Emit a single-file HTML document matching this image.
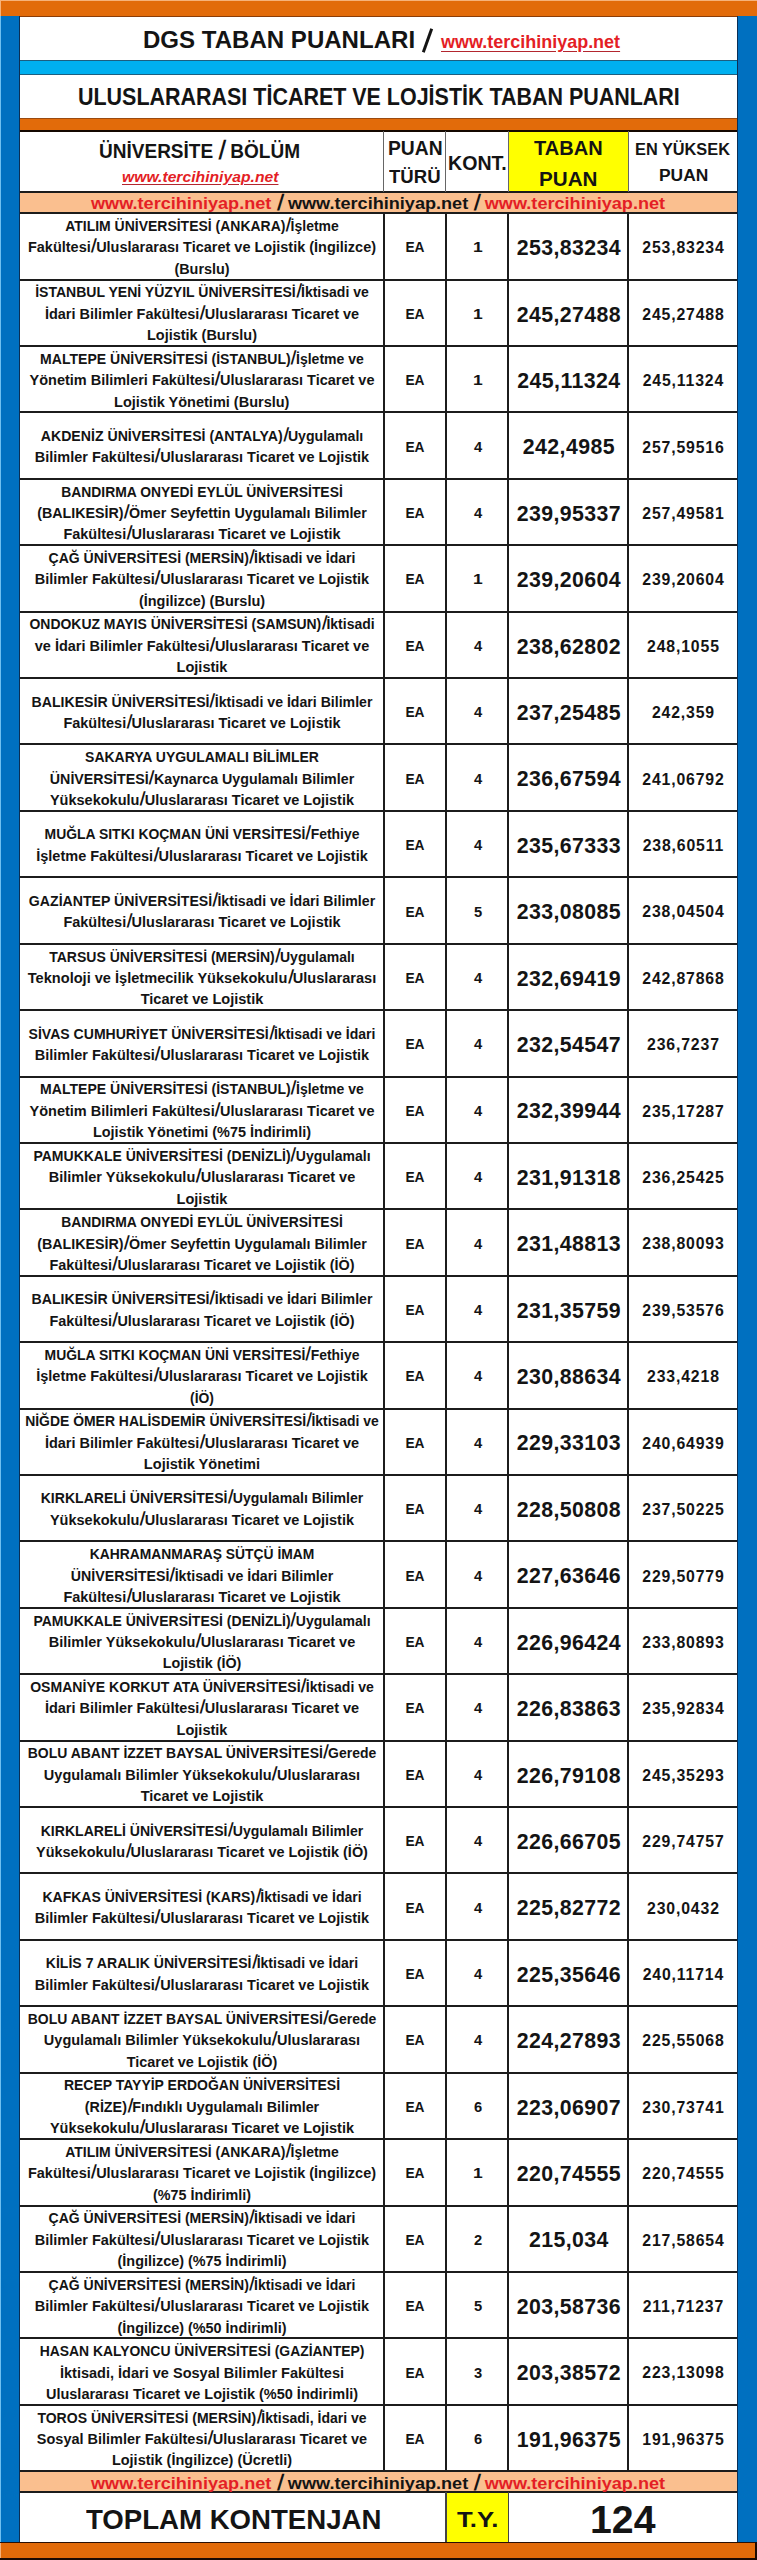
<!DOCTYPE html>
<html lang="tr"><head><meta charset="utf-8"><title>DGS Taban Puanları</title><style>*{margin:0;padding:0}
html,body{width:757px;height:2560px;overflow:hidden;background:#fff}
body>div{position:absolute}
.t{width:600px;text-align:center;white-space:pre;font-family:'Liberation Sans', sans-serif;font-weight:bold;transform-origin:50% 50%}
.sl{display:inline-block;transform:scale(1.1,1.32) skewX(-9deg);transform-origin:50% 72%;margin:0 0.7px}
.f{white-space:pre;font-family:'Liberation Sans', sans-serif;font-weight:bold;transform-origin:0 50%;text-decoration-thickness:1.5px;text-underline-offset:2px}
</style></head>
<body>
<div style="left:0px;top:0px;width:757px;height:2560px;background:#fff;"></div>
<div style="left:0px;top:0px;width:757px;height:17px;background:#E26B0A;"></div>
<div style="left:0px;top:0px;width:757px;height:1px;background:#F6B27A;"></div>
<div style="left:19px;top:16px;width:718px;height:1px;background:#8a3d08;"></div>
<div style="left:0px;top:16px;width:19.5px;height:2527px;background:#0070C0;"></div>
<div style="left:0px;top:16px;width:1px;height:2527px;background:#6fc0f0;"></div>
<div style="left:18.5px;top:16px;width:1.5px;height:2527px;background:#0b2f55;"></div>
<div style="left:737px;top:16px;width:20px;height:2527px;background:#0070C0;"></div>
<div style="left:736.5px;top:16px;width:1.5px;height:2527px;background:#0b2f55;"></div>
<div style="left:0px;top:2541.5px;width:757px;height:18.5px;background:#E26B0A;"></div>
<div style="left:0px;top:2541.5px;width:757px;height:1.5px;background:#2a1005;"></div>
<div style="left:0px;top:2558px;width:757px;height:2px;background:#1a0a03;"></div>
<div style="left:755px;top:2541.5px;width:2px;height:18.5px;background:#1a0a03;"></div>
<div style="left:0px;top:0px;width:1px;height:16px;background:#F6B27A;"></div>
<div style="left:0px;top:2543px;width:1px;height:15px;background:#F6B27A;"></div>
<div style="left:19.5px;top:60px;width:717.5px;height:15px;background:#00B0F0;"></div>
<div style="left:19.5px;top:60px;width:717.5px;height:1px;background:#1d5f80;"></div>
<div style="left:19.5px;top:74px;width:717.5px;height:1px;background:#1d5f80;"></div>
<div style="left:19.5px;top:118px;width:717.5px;height:13px;background:#E26B0A;"></div>
<div style="left:19.5px;top:118px;width:717.5px;height:1px;background:#9a4a10;"></div>
<div style="left:19.5px;top:130px;width:717.5px;height:1.5px;background:#140800;"></div>
<div style="left:508.5px;top:131.5px;width:119.5px;height:59.5px;background:#FFFF00;"></div>
<div style="left:19.5px;top:191px;width:717.5px;height:22px;background:#FABF8F;"></div>
<div style="left:19.5px;top:2470.6px;width:717.5px;height:22px;background:#FABF8F;"></div>
<div style="left:446px;top:2492.5px;width:62.5px;height:49px;background:#FFFF00;"></div>
<div style="left:19.5px;top:190.5px;width:717.5px;height:2px;background:#1c1c1c;"></div>
<div style="left:19.5px;top:212.2px;width:717.5px;height:2px;background:#1c1c1c;"></div>
<div style="left:19.5px;top:278.61px;width:717.5px;height:2px;background:#1c1c1c;"></div>
<div style="left:19.5px;top:345.02px;width:717.5px;height:2px;background:#1c1c1c;"></div>
<div style="left:19.5px;top:411.42999999999995px;width:717.5px;height:2px;background:#1c1c1c;"></div>
<div style="left:19.5px;top:477.84px;width:717.5px;height:2px;background:#1c1c1c;"></div>
<div style="left:19.5px;top:544.25px;width:717.5px;height:2px;background:#1c1c1c;"></div>
<div style="left:19.5px;top:610.66px;width:717.5px;height:2px;background:#1c1c1c;"></div>
<div style="left:19.5px;top:677.0699999999999px;width:717.5px;height:2px;background:#1c1c1c;"></div>
<div style="left:19.5px;top:743.48px;width:717.5px;height:2px;background:#1c1c1c;"></div>
<div style="left:19.5px;top:809.8899999999999px;width:717.5px;height:2px;background:#1c1c1c;"></div>
<div style="left:19.5px;top:876.3px;width:717.5px;height:2px;background:#1c1c1c;"></div>
<div style="left:19.5px;top:942.71px;width:717.5px;height:2px;background:#1c1c1c;"></div>
<div style="left:19.5px;top:1009.1199999999999px;width:717.5px;height:2px;background:#1c1c1c;"></div>
<div style="left:19.5px;top:1075.53px;width:717.5px;height:2px;background:#1c1c1c;"></div>
<div style="left:19.5px;top:1141.94px;width:717.5px;height:2px;background:#1c1c1c;"></div>
<div style="left:19.5px;top:1208.35px;width:717.5px;height:2px;background:#1c1c1c;"></div>
<div style="left:19.5px;top:1274.76px;width:717.5px;height:2px;background:#1c1c1c;"></div>
<div style="left:19.5px;top:1341.17px;width:717.5px;height:2px;background:#1c1c1c;"></div>
<div style="left:19.5px;top:1407.58px;width:717.5px;height:2px;background:#1c1c1c;"></div>
<div style="left:19.5px;top:1473.99px;width:717.5px;height:2px;background:#1c1c1c;"></div>
<div style="left:19.5px;top:1540.3999999999999px;width:717.5px;height:2px;background:#1c1c1c;"></div>
<div style="left:19.5px;top:1606.81px;width:717.5px;height:2px;background:#1c1c1c;"></div>
<div style="left:19.5px;top:1673.22px;width:717.5px;height:2px;background:#1c1c1c;"></div>
<div style="left:19.5px;top:1739.6299999999999px;width:717.5px;height:2px;background:#1c1c1c;"></div>
<div style="left:19.5px;top:1806.04px;width:717.5px;height:2px;background:#1c1c1c;"></div>
<div style="left:19.5px;top:1872.45px;width:717.5px;height:2px;background:#1c1c1c;"></div>
<div style="left:19.5px;top:1938.86px;width:717.5px;height:2px;background:#1c1c1c;"></div>
<div style="left:19.5px;top:2005.27px;width:717.5px;height:2px;background:#1c1c1c;"></div>
<div style="left:19.5px;top:2071.68px;width:717.5px;height:2px;background:#1c1c1c;"></div>
<div style="left:19.5px;top:2138.0899999999997px;width:717.5px;height:2px;background:#1c1c1c;"></div>
<div style="left:19.5px;top:2204.5px;width:717.5px;height:2px;background:#1c1c1c;"></div>
<div style="left:19.5px;top:2270.91px;width:717.5px;height:2px;background:#1c1c1c;"></div>
<div style="left:19.5px;top:2337.3199999999997px;width:717.5px;height:2px;background:#1c1c1c;"></div>
<div style="left:19.5px;top:2403.7299999999996px;width:717.5px;height:2px;background:#1c1c1c;"></div>
<div style="left:19.5px;top:2470.14px;width:717.5px;height:2px;background:#1c1c1c;"></div>
<div style="left:19.5px;top:2491.0px;width:717.5px;height:2px;background:#1c1c1c;"></div>
<div style="left:382.5px;top:213.2px;width:2px;height:2257.94px;background:#1c1c1c;"></div>
<div style="left:444.8px;top:213.2px;width:2px;height:2257.94px;background:#1c1c1c;"></div>
<div style="left:507.0px;top:213.2px;width:2px;height:2257.94px;background:#1c1c1c;"></div>
<div style="left:627.4px;top:213.2px;width:2px;height:2257.94px;background:#1c1c1c;"></div>
<div style="left:383.0px;top:131px;width:1px;height:60.5px;background:#666;"></div>
<div style="left:445.3px;top:131px;width:1px;height:60.5px;background:#666;"></div>
<div style="left:507.5px;top:131px;width:1px;height:60.5px;background:#666;"></div>
<div style="left:627.9px;top:131px;width:1px;height:60.5px;background:#666;"></div>
<div style="left:445.25px;top:2492px;width:1.5px;height:49.5px;background:#444;"></div>
<div style="left:507.75px;top:2492px;width:1.5px;height:49.5px;background:#444;"></div>
<div class="f" style="left:142.72px;top:28.00px;font-size:24.5px;line-height:24.5px;transform:scaleX(0.9815);color:#141414;">DGS TABAN PUANLARI</div>
<div class="f" style="left:441.10px;top:33.00px;font-size:18.5px;line-height:18.5px;transform:scaleX(0.9714);color:#E41E25;text-decoration:underline;text-underline-offset:3px;text-decoration-color:#B3262E;">www.tercihiniyap.net</div>
<div class="f" style="left:77.58px;top:86.00px;font-size:23.3px;line-height:23.3px;transform:scaleX(0.9214);color:#141414;">ULUSLARARASI TİCARET VE LOJİSTİK TABAN PUANLARI</div>
<div class="f" style="left:99.25px;top:141.00px;font-size:20px;line-height:20px;transform:scaleX(0.9510);color:#141414;">ÜNİVERSİTE <span class="sl">/</span> BÖLÜM</div>
<div class="f" style="left:122.00px;top:169.00px;font-size:15.5px;line-height:15.5px;transform:scaleX(1.0129);color:#E41E25;font-style:italic;text-decoration:underline;text-underline-offset:2px;text-decoration-color:#B3262E;">www.tercihiniyap.net</div>
<div class="f" style="left:387.71px;top:139.00px;font-size:19.4px;line-height:19.4px;transform:scaleX(0.9943);color:#141414;">PUAN</div>
<div class="f" style="left:389.00px;top:167.00px;font-size:19px;line-height:19px;transform:scaleX(0.9769);color:#141414;">TÜRÜ</div>
<div class="f" style="left:447.99px;top:154.00px;font-size:19.5px;line-height:19.5px;transform:scaleX(1.0053);color:#141414;">KONT.</div>
<div class="f" style="left:534.40px;top:138.00px;font-size:20.7px;line-height:20.7px;transform:scaleX(0.9686);color:#141414;">TABAN</div>
<div class="f" style="left:538.78px;top:169.00px;font-size:20.3px;line-height:20.3px;transform:scaleX(1.0179);color:#141414;">PUAN</div>
<div class="f" style="left:634.75px;top:141.00px;font-size:17.2px;line-height:17.2px;transform:scaleX(0.9495);color:#141414;">EN YÜKSEK</div>
<div class="f" style="left:658.76px;top:168.00px;font-size:16.8px;line-height:16.8px;transform:scaleX(1.0370);color:#141414;">PUAN</div>
<div class="f" style="left:90.90px;top:195.00px;font-size:17px;line-height:17px;transform:scaleX(1.0644);color:#E41E25;">www.tercihiniyap.net<span style="color:#141414"> <span class="sl">/</span> www.tercihiniyap.net <span class="sl">/</span> </span>www.tercihiniyap.net</div>
<div class="f" style="left:91.00px;top:2475.00px;font-size:17px;line-height:17px;transform:scaleX(1.0643);color:#E41E25;">www.tercihiniyap.net<span style="color:#141414"> <span class="sl">/</span> www.tercihiniyap.net <span class="sl">/</span> </span>www.tercihiniyap.net</div>
<div class="f" style="left:86.00px;top:2505.00px;font-size:28.5px;line-height:28.5px;transform:scaleX(0.9684);color:#141414;">TOPLAM KONTENJAN</div>
<div class="f" style="left:457.20px;top:2509.00px;font-size:22.3px;line-height:22.3px;transform:scaleX(1.1543);color:#141414;">T.Y.</div>
<div class="f" style="left:589.76px;top:2501.00px;font-size:38.5px;line-height:38.5px;transform:scaleX(1.0194);color:#141414;">124</div>
<div style="left:426.30px;top:28.27px;width:3px;height:25.05px;background:#141414;transform:rotate(19.59deg)"></div>
<div class="t" style="left:-98.25px;top:219.00px;font-size:14.5px;line-height:14.5px;transform:scaleX(0.9636);color:#141414;">ATILIM ÜNİVERSİTESİ (ANKARA)<span class="sl">/</span>İşletme</div>
<div class="t" style="left:-98.25px;top:240.00px;font-size:14.5px;line-height:14.5px;transform:scaleX(0.9990);color:#141414;">Fakültesi<span class="sl">/</span>Uluslararası Ticaret ve Lojistik (İngilizce)</div>
<div class="t" style="left:-98.25px;top:262.00px;font-size:14.5px;line-height:14.5px;transform:scaleX(0.9935);color:#141414;">(Burslu)</div>
<div class="t" style="left:114.70px;top:240.00px;font-size:14px;line-height:14px;transform:scaleX(0.9800);color:#141414;">EA</div>
<div class="t" style="left:177.60px;top:240.00px;font-size:14px;line-height:14px;transform:scaleX(1.2500);color:#141414;">1</div>
<div class="t" style="left:268.70px;top:238.00px;font-size:21.3px;line-height:21.3px;transform:scaleX(1.0000);color:#141414;letter-spacing:0.4px;text-indent:0.4px;">253,83234</div>
<div class="t" style="left:383.00px;top:240.00px;font-size:15.8px;line-height:15.8px;transform:scaleX(1.0000);color:#141414;letter-spacing:0.85px;text-indent:0.85px;">253,83234</div>
<div class="t" style="left:-98.25px;top:285.00px;font-size:14.5px;line-height:14.5px;transform:scaleX(0.9674);color:#141414;">İSTANBUL YENİ YÜZYIL ÜNİVERSİTESİ<span class="sl">/</span>İktisadi ve</div>
<div class="t" style="left:-98.25px;top:307.00px;font-size:14.5px;line-height:14.5px;transform:scaleX(0.9987);color:#141414;">İdari Bilimler Fakültesi<span class="sl">/</span>Uluslararası Ticaret ve</div>
<div class="t" style="left:-98.25px;top:328.00px;font-size:14.5px;line-height:14.5px;transform:scaleX(0.9968);color:#141414;">Lojistik (Burslu)</div>
<div class="t" style="left:114.70px;top:307.00px;font-size:14px;line-height:14px;transform:scaleX(0.9800);color:#141414;">EA</div>
<div class="t" style="left:177.60px;top:307.00px;font-size:14px;line-height:14px;transform:scaleX(1.2500);color:#141414;">1</div>
<div class="t" style="left:268.70px;top:305.00px;font-size:21.3px;line-height:21.3px;transform:scaleX(1.0000);color:#141414;letter-spacing:0.4px;text-indent:0.4px;">245,27488</div>
<div class="t" style="left:383.00px;top:307.00px;font-size:15.8px;line-height:15.8px;transform:scaleX(1.0000);color:#141414;letter-spacing:0.85px;text-indent:0.85px;">245,27488</div>
<div class="t" style="left:-98.25px;top:352.00px;font-size:14.5px;line-height:14.5px;transform:scaleX(0.9682);color:#141414;">MALTEPE ÜNİVERSİTESİ (İSTANBUL)<span class="sl">/</span>İşletme ve</div>
<div class="t" style="left:-98.25px;top:373.00px;font-size:14.5px;line-height:14.5px;transform:scaleX(0.9991);color:#141414;">Yönetim Bilimleri Fakültesi<span class="sl">/</span>Uluslararası Ticaret ve</div>
<div class="t" style="left:-98.25px;top:395.00px;font-size:14.5px;line-height:14.5px;transform:scaleX(1.0000);color:#141414;">Lojistik Yönetimi (Burslu)</div>
<div class="t" style="left:114.70px;top:373.00px;font-size:14px;line-height:14px;transform:scaleX(0.9800);color:#141414;">EA</div>
<div class="t" style="left:177.60px;top:373.00px;font-size:14px;line-height:14px;transform:scaleX(1.2500);color:#141414;">1</div>
<div class="t" style="left:268.70px;top:371.00px;font-size:21.3px;line-height:21.3px;transform:scaleX(1.0000);color:#141414;letter-spacing:0.4px;text-indent:0.4px;">245,11324</div>
<div class="t" style="left:383.00px;top:373.00px;font-size:15.8px;line-height:15.8px;transform:scaleX(1.0000);color:#141414;letter-spacing:0.85px;text-indent:0.85px;">245,11324</div>
<div class="t" style="left:-98.25px;top:429.00px;font-size:14.5px;line-height:14.5px;transform:scaleX(0.9737);color:#141414;">AKDENİZ ÜNİVERSİTESİ (ANTALYA)<span class="sl">/</span>Uygulamalı</div>
<div class="t" style="left:-98.25px;top:450.00px;font-size:14.5px;line-height:14.5px;transform:scaleX(0.9988);color:#141414;">Bilimler Fakültesi<span class="sl">/</span>Uluslararası Ticaret ve Lojistik</div>
<div class="t" style="left:114.70px;top:440.00px;font-size:14px;line-height:14px;transform:scaleX(0.9800);color:#141414;">EA</div>
<div class="t" style="left:177.60px;top:440.00px;font-size:14px;line-height:14px;transform:scaleX(1.0500);color:#141414;">4</div>
<div class="t" style="left:268.70px;top:437.00px;font-size:21.3px;line-height:21.3px;transform:scaleX(1.0000);color:#141414;letter-spacing:0.4px;text-indent:0.4px;">242,4985</div>
<div class="t" style="left:383.00px;top:440.00px;font-size:15.8px;line-height:15.8px;transform:scaleX(1.0000);color:#141414;letter-spacing:0.85px;text-indent:0.85px;">257,59516</div>
<div class="t" style="left:-98.25px;top:485.00px;font-size:14.5px;line-height:14.5px;transform:scaleX(0.9573);color:#141414;">BANDIRMA ONYEDİ EYLÜL ÜNİVERSİTESİ</div>
<div class="t" style="left:-98.25px;top:506.00px;font-size:14.5px;line-height:14.5px;transform:scaleX(0.9843);color:#141414;">(BALIKESİR)<span class="sl">/</span>Ömer Seyfettin Uygulamalı Bilimler</div>
<div class="t" style="left:-98.25px;top:527.00px;font-size:14.5px;line-height:14.5px;transform:scaleX(0.9987);color:#141414;">Fakültesi<span class="sl">/</span>Uluslararası Ticaret ve Lojistik</div>
<div class="t" style="left:114.70px;top:506.00px;font-size:14px;line-height:14px;transform:scaleX(0.9800);color:#141414;">EA</div>
<div class="t" style="left:177.60px;top:506.00px;font-size:14px;line-height:14px;transform:scaleX(1.0500);color:#141414;">4</div>
<div class="t" style="left:268.70px;top:504.00px;font-size:21.3px;line-height:21.3px;transform:scaleX(1.0000);color:#141414;letter-spacing:0.4px;text-indent:0.4px;">239,95337</div>
<div class="t" style="left:383.00px;top:506.00px;font-size:15.8px;line-height:15.8px;transform:scaleX(1.0000);color:#141414;letter-spacing:0.85px;text-indent:0.85px;">257,49581</div>
<div class="t" style="left:-98.25px;top:551.00px;font-size:14.5px;line-height:14.5px;transform:scaleX(0.9675);color:#141414;">ÇAĞ ÜNİVERSİTESİ (MERSİN)<span class="sl">/</span>İktisadi ve İdari</div>
<div class="t" style="left:-98.25px;top:572.00px;font-size:14.5px;line-height:14.5px;transform:scaleX(0.9988);color:#141414;">Bilimler Fakültesi<span class="sl">/</span>Uluslararası Ticaret ve Lojistik</div>
<div class="t" style="left:-98.25px;top:594.00px;font-size:14.5px;line-height:14.5px;transform:scaleX(0.9973);color:#141414;">(İngilizce) (Burslu)</div>
<div class="t" style="left:114.70px;top:572.00px;font-size:14px;line-height:14px;transform:scaleX(0.9800);color:#141414;">EA</div>
<div class="t" style="left:177.60px;top:572.00px;font-size:14px;line-height:14px;transform:scaleX(1.2500);color:#141414;">1</div>
<div class="t" style="left:268.70px;top:570.00px;font-size:21.3px;line-height:21.3px;transform:scaleX(1.0000);color:#141414;letter-spacing:0.4px;text-indent:0.4px;">239,20604</div>
<div class="t" style="left:383.00px;top:572.00px;font-size:15.8px;line-height:15.8px;transform:scaleX(1.0000);color:#141414;letter-spacing:0.85px;text-indent:0.85px;">239,20604</div>
<div class="t" style="left:-98.25px;top:617.00px;font-size:14.5px;line-height:14.5px;transform:scaleX(0.9625);color:#141414;">ONDOKUZ MAYIS ÜNİVERSİTESİ (SAMSUN)<span class="sl">/</span>İktisadi</div>
<div class="t" style="left:-98.25px;top:639.00px;font-size:14.5px;line-height:14.5px;transform:scaleX(0.9990);color:#141414;">ve İdari Bilimler Fakültesi<span class="sl">/</span>Uluslararası Ticaret ve</div>
<div class="t" style="left:-98.25px;top:660.00px;font-size:14.5px;line-height:14.5px;transform:scaleX(1.0030);color:#141414;">Lojistik</div>
<div class="t" style="left:114.70px;top:639.00px;font-size:14px;line-height:14px;transform:scaleX(0.9800);color:#141414;">EA</div>
<div class="t" style="left:177.60px;top:639.00px;font-size:14px;line-height:14px;transform:scaleX(1.0500);color:#141414;">4</div>
<div class="t" style="left:268.70px;top:637.00px;font-size:21.3px;line-height:21.3px;transform:scaleX(1.0000);color:#141414;letter-spacing:0.4px;text-indent:0.4px;">238,62802</div>
<div class="t" style="left:383.00px;top:639.00px;font-size:15.8px;line-height:15.8px;transform:scaleX(1.0000);color:#141414;letter-spacing:0.85px;text-indent:0.85px;">248,1055</div>
<div class="t" style="left:-98.25px;top:695.00px;font-size:14.5px;line-height:14.5px;transform:scaleX(0.9732);color:#141414;">BALIKESİR ÜNİVERSİTESİ<span class="sl">/</span>İktisadi ve İdari Bilimler</div>
<div class="t" style="left:-98.25px;top:716.00px;font-size:14.5px;line-height:14.5px;transform:scaleX(0.9987);color:#141414;">Fakültesi<span class="sl">/</span>Uluslararası Ticaret ve Lojistik</div>
<div class="t" style="left:114.70px;top:705.00px;font-size:14px;line-height:14px;transform:scaleX(0.9800);color:#141414;">EA</div>
<div class="t" style="left:177.60px;top:705.00px;font-size:14px;line-height:14px;transform:scaleX(1.0500);color:#141414;">4</div>
<div class="t" style="left:268.70px;top:703.00px;font-size:21.3px;line-height:21.3px;transform:scaleX(1.0000);color:#141414;letter-spacing:0.4px;text-indent:0.4px;">237,25485</div>
<div class="t" style="left:383.00px;top:705.00px;font-size:15.8px;line-height:15.8px;transform:scaleX(1.0000);color:#141414;letter-spacing:0.85px;text-indent:0.85px;">242,359</div>
<div class="t" style="left:-98.25px;top:750.00px;font-size:14.5px;line-height:14.5px;transform:scaleX(0.9642);color:#141414;">SAKARYA UYGULAMALI BİLİMLER</div>
<div class="t" style="left:-98.25px;top:772.00px;font-size:14.5px;line-height:14.5px;transform:scaleX(0.9817);color:#141414;">ÜNİVERSİTESİ<span class="sl">/</span>Kaynarca Uygulamalı Bilimler</div>
<div class="t" style="left:-98.25px;top:793.00px;font-size:14.5px;line-height:14.5px;transform:scaleX(0.9998);color:#141414;">Yüksekokulu<span class="sl">/</span>Uluslararası Ticaret ve Lojistik</div>
<div class="t" style="left:114.70px;top:772.00px;font-size:14px;line-height:14px;transform:scaleX(0.9800);color:#141414;">EA</div>
<div class="t" style="left:177.60px;top:772.00px;font-size:14px;line-height:14px;transform:scaleX(1.0500);color:#141414;">4</div>
<div class="t" style="left:268.70px;top:769.00px;font-size:21.3px;line-height:21.3px;transform:scaleX(1.0000);color:#141414;letter-spacing:0.4px;text-indent:0.4px;">236,67594</div>
<div class="t" style="left:383.00px;top:772.00px;font-size:15.8px;line-height:15.8px;transform:scaleX(1.0000);color:#141414;letter-spacing:0.85px;text-indent:0.85px;">241,06792</div>
<div class="t" style="left:-98.25px;top:827.00px;font-size:14.5px;line-height:14.5px;transform:scaleX(0.9600);color:#141414;">MUĞLA SITKI KOÇMAN ÜNİ VERSİTESİ<span class="sl">/</span>Fethiye</div>
<div class="t" style="left:-98.25px;top:849.00px;font-size:14.5px;line-height:14.5px;transform:scaleX(0.9998);color:#141414;">İşletme Fakültesi<span class="sl">/</span>Uluslararası Ticaret ve Lojistik</div>
<div class="t" style="left:114.70px;top:838.00px;font-size:14px;line-height:14px;transform:scaleX(0.9800);color:#141414;">EA</div>
<div class="t" style="left:177.60px;top:838.00px;font-size:14px;line-height:14px;transform:scaleX(1.0500);color:#141414;">4</div>
<div class="t" style="left:268.70px;top:836.00px;font-size:21.3px;line-height:21.3px;transform:scaleX(1.0000);color:#141414;letter-spacing:0.4px;text-indent:0.4px;">235,67333</div>
<div class="t" style="left:383.00px;top:838.00px;font-size:15.8px;line-height:15.8px;transform:scaleX(1.0000);color:#141414;letter-spacing:0.85px;text-indent:0.85px;">238,60511</div>
<div class="t" style="left:-98.25px;top:894.00px;font-size:14.5px;line-height:14.5px;transform:scaleX(0.9736);color:#141414;">GAZİANTEP ÜNİVERSİTESİ<span class="sl">/</span>İktisadi ve İdari Bilimler</div>
<div class="t" style="left:-98.25px;top:915.00px;font-size:14.5px;line-height:14.5px;transform:scaleX(0.9987);color:#141414;">Fakültesi<span class="sl">/</span>Uluslararası Ticaret ve Lojistik</div>
<div class="t" style="left:114.70px;top:905.00px;font-size:14px;line-height:14px;transform:scaleX(0.9800);color:#141414;">EA</div>
<div class="t" style="left:177.60px;top:905.00px;font-size:14px;line-height:14px;transform:scaleX(1.0500);color:#141414;">5</div>
<div class="t" style="left:268.70px;top:902.00px;font-size:21.3px;line-height:21.3px;transform:scaleX(1.0000);color:#141414;letter-spacing:0.4px;text-indent:0.4px;">233,08085</div>
<div class="t" style="left:383.00px;top:904.00px;font-size:15.8px;line-height:15.8px;transform:scaleX(1.0000);color:#141414;letter-spacing:0.85px;text-indent:0.85px;">238,04504</div>
<div class="t" style="left:-98.25px;top:950.00px;font-size:14.5px;line-height:14.5px;transform:scaleX(0.9665);color:#141414;">TARSUS ÜNİVERSİTESİ (MERSİN)<span class="sl">/</span>Uygulamalı</div>
<div class="t" style="left:-98.25px;top:971.00px;font-size:14.5px;line-height:14.5px;transform:scaleX(1.0053);color:#141414;">Teknoloji ve İşletmecilik Yüksekokulu<span class="sl">/</span>Uluslararası</div>
<div class="t" style="left:-98.25px;top:992.00px;font-size:14.5px;line-height:14.5px;transform:scaleX(1.0039);color:#141414;">Ticaret ve Lojistik</div>
<div class="t" style="left:114.70px;top:971.00px;font-size:14px;line-height:14px;transform:scaleX(0.9800);color:#141414;">EA</div>
<div class="t" style="left:177.60px;top:971.00px;font-size:14px;line-height:14px;transform:scaleX(1.0500);color:#141414;">4</div>
<div class="t" style="left:268.70px;top:969.00px;font-size:21.3px;line-height:21.3px;transform:scaleX(1.0000);color:#141414;letter-spacing:0.4px;text-indent:0.4px;">232,69419</div>
<div class="t" style="left:383.00px;top:971.00px;font-size:15.8px;line-height:15.8px;transform:scaleX(1.0000);color:#141414;letter-spacing:0.85px;text-indent:0.85px;">242,87868</div>
<div class="t" style="left:-98.25px;top:1027.00px;font-size:14.5px;line-height:14.5px;transform:scaleX(0.9686);color:#141414;">SİVAS CUMHURİYET ÜNİVERSİTESİ<span class="sl">/</span>İktisadi ve İdari</div>
<div class="t" style="left:-98.25px;top:1048.00px;font-size:14.5px;line-height:14.5px;transform:scaleX(0.9988);color:#141414;">Bilimler Fakültesi<span class="sl">/</span>Uluslararası Ticaret ve Lojistik</div>
<div class="t" style="left:114.70px;top:1037.00px;font-size:14px;line-height:14px;transform:scaleX(0.9800);color:#141414;">EA</div>
<div class="t" style="left:177.60px;top:1037.00px;font-size:14px;line-height:14px;transform:scaleX(1.0500);color:#141414;">4</div>
<div class="t" style="left:268.70px;top:1035.00px;font-size:21.3px;line-height:21.3px;transform:scaleX(1.0000);color:#141414;letter-spacing:0.4px;text-indent:0.4px;">232,54547</div>
<div class="t" style="left:383.00px;top:1037.00px;font-size:15.8px;line-height:15.8px;transform:scaleX(1.0000);color:#141414;letter-spacing:0.85px;text-indent:0.85px;">236,7237</div>
<div class="t" style="left:-98.25px;top:1082.00px;font-size:14.5px;line-height:14.5px;transform:scaleX(0.9682);color:#141414;">MALTEPE ÜNİVERSİTESİ (İSTANBUL)<span class="sl">/</span>İşletme ve</div>
<div class="t" style="left:-98.25px;top:1104.00px;font-size:14.5px;line-height:14.5px;transform:scaleX(0.9991);color:#141414;">Yönetim Bilimleri Fakültesi<span class="sl">/</span>Uluslararası Ticaret ve</div>
<div class="t" style="left:-98.25px;top:1125.00px;font-size:14.5px;line-height:14.5px;transform:scaleX(0.9967);color:#141414;">Lojistik Yönetimi (%75 İndirimli)</div>
<div class="t" style="left:114.70px;top:1104.00px;font-size:14px;line-height:14px;transform:scaleX(0.9800);color:#141414;">EA</div>
<div class="t" style="left:177.60px;top:1104.00px;font-size:14px;line-height:14px;transform:scaleX(1.0500);color:#141414;">4</div>
<div class="t" style="left:268.70px;top:1101.00px;font-size:21.3px;line-height:21.3px;transform:scaleX(1.0000);color:#141414;letter-spacing:0.4px;text-indent:0.4px;">232,39944</div>
<div class="t" style="left:383.00px;top:1104.00px;font-size:15.8px;line-height:15.8px;transform:scaleX(1.0000);color:#141414;letter-spacing:0.85px;text-indent:0.85px;">235,17287</div>
<div class="t" style="left:-98.25px;top:1149.00px;font-size:14.5px;line-height:14.5px;transform:scaleX(0.9654);color:#141414;">PAMUKKALE ÜNİVERSİTESİ (DENİZLİ)<span class="sl">/</span>Uygulamalı</div>
<div class="t" style="left:-98.25px;top:1170.00px;font-size:14.5px;line-height:14.5px;transform:scaleX(1.0004);color:#141414;">Bilimler Yüksekokulu<span class="sl">/</span>Uluslararası Ticaret ve</div>
<div class="t" style="left:-98.25px;top:1192.00px;font-size:14.5px;line-height:14.5px;transform:scaleX(1.0030);color:#141414;">Lojistik</div>
<div class="t" style="left:114.70px;top:1170.00px;font-size:14px;line-height:14px;transform:scaleX(0.9800);color:#141414;">EA</div>
<div class="t" style="left:177.60px;top:1170.00px;font-size:14px;line-height:14px;transform:scaleX(1.0500);color:#141414;">4</div>
<div class="t" style="left:268.70px;top:1168.00px;font-size:21.3px;line-height:21.3px;transform:scaleX(1.0000);color:#141414;letter-spacing:0.4px;text-indent:0.4px;">231,91318</div>
<div class="t" style="left:383.00px;top:1170.00px;font-size:15.8px;line-height:15.8px;transform:scaleX(1.0000);color:#141414;letter-spacing:0.85px;text-indent:0.85px;">236,25425</div>
<div class="t" style="left:-98.25px;top:1215.00px;font-size:14.5px;line-height:14.5px;transform:scaleX(0.9573);color:#141414;">BANDIRMA ONYEDİ EYLÜL ÜNİVERSİTESİ</div>
<div class="t" style="left:-98.25px;top:1237.00px;font-size:14.5px;line-height:14.5px;transform:scaleX(0.9843);color:#141414;">(BALIKESİR)<span class="sl">/</span>Ömer Seyfettin Uygulamalı Bilimler</div>
<div class="t" style="left:-98.25px;top:1258.00px;font-size:14.5px;line-height:14.5px;transform:scaleX(0.9949);color:#141414;">Fakültesi<span class="sl">/</span>Uluslararası Ticaret ve Lojistik (İÖ)</div>
<div class="t" style="left:114.70px;top:1237.00px;font-size:14px;line-height:14px;transform:scaleX(0.9800);color:#141414;">EA</div>
<div class="t" style="left:177.60px;top:1237.00px;font-size:14px;line-height:14px;transform:scaleX(1.0500);color:#141414;">4</div>
<div class="t" style="left:268.70px;top:1234.00px;font-size:21.3px;line-height:21.3px;transform:scaleX(1.0000);color:#141414;letter-spacing:0.4px;text-indent:0.4px;">231,48813</div>
<div class="t" style="left:383.00px;top:1236.00px;font-size:15.8px;line-height:15.8px;transform:scaleX(1.0000);color:#141414;letter-spacing:0.85px;text-indent:0.85px;">238,80093</div>
<div class="t" style="left:-98.25px;top:1292.00px;font-size:14.5px;line-height:14.5px;transform:scaleX(0.9732);color:#141414;">BALIKESİR ÜNİVERSİTESİ<span class="sl">/</span>İktisadi ve İdari Bilimler</div>
<div class="t" style="left:-98.25px;top:1314.00px;font-size:14.5px;line-height:14.5px;transform:scaleX(0.9949);color:#141414;">Fakültesi<span class="sl">/</span>Uluslararası Ticaret ve Lojistik (İÖ)</div>
<div class="t" style="left:114.70px;top:1303.00px;font-size:14px;line-height:14px;transform:scaleX(0.9800);color:#141414;">EA</div>
<div class="t" style="left:177.60px;top:1303.00px;font-size:14px;line-height:14px;transform:scaleX(1.0500);color:#141414;">4</div>
<div class="t" style="left:268.70px;top:1301.00px;font-size:21.3px;line-height:21.3px;transform:scaleX(1.0000);color:#141414;letter-spacing:0.4px;text-indent:0.4px;">231,35759</div>
<div class="t" style="left:383.00px;top:1303.00px;font-size:15.8px;line-height:15.8px;transform:scaleX(1.0000);color:#141414;letter-spacing:0.85px;text-indent:0.85px;">239,53576</div>
<div class="t" style="left:-98.25px;top:1348.00px;font-size:14.5px;line-height:14.5px;transform:scaleX(0.9600);color:#141414;">MUĞLA SITKI KOÇMAN ÜNİ VERSİTESİ<span class="sl">/</span>Fethiye</div>
<div class="t" style="left:-98.25px;top:1369.00px;font-size:14.5px;line-height:14.5px;transform:scaleX(0.9998);color:#141414;">İşletme Fakültesi<span class="sl">/</span>Uluslararası Ticaret ve Lojistik</div>
<div class="t" style="left:-98.25px;top:1391.00px;font-size:14.5px;line-height:14.5px;transform:scaleX(0.9579);color:#141414;">(İÖ)</div>
<div class="t" style="left:114.70px;top:1369.00px;font-size:14px;line-height:14px;transform:scaleX(0.9800);color:#141414;">EA</div>
<div class="t" style="left:177.60px;top:1369.00px;font-size:14px;line-height:14px;transform:scaleX(1.0500);color:#141414;">4</div>
<div class="t" style="left:268.70px;top:1367.00px;font-size:21.3px;line-height:21.3px;transform:scaleX(1.0000);color:#141414;letter-spacing:0.4px;text-indent:0.4px;">230,88634</div>
<div class="t" style="left:383.00px;top:1369.00px;font-size:15.8px;line-height:15.8px;transform:scaleX(1.0000);color:#141414;letter-spacing:0.85px;text-indent:0.85px;">233,4218</div>
<div class="t" style="left:-98.25px;top:1414.00px;font-size:14.5px;line-height:14.5px;transform:scaleX(0.9612);color:#141414;">NİĞDE ÖMER HALİSDEMİR ÜNİVERSİTESİ<span class="sl">/</span>İktisadi ve</div>
<div class="t" style="left:-98.25px;top:1436.00px;font-size:14.5px;line-height:14.5px;transform:scaleX(0.9987);color:#141414;">İdari Bilimler Fakültesi<span class="sl">/</span>Uluslararası Ticaret ve</div>
<div class="t" style="left:-98.25px;top:1457.00px;font-size:14.5px;line-height:14.5px;transform:scaleX(1.0042);color:#141414;">Lojistik Yönetimi</div>
<div class="t" style="left:114.70px;top:1436.00px;font-size:14px;line-height:14px;transform:scaleX(0.9800);color:#141414;">EA</div>
<div class="t" style="left:177.60px;top:1436.00px;font-size:14px;line-height:14px;transform:scaleX(1.0500);color:#141414;">4</div>
<div class="t" style="left:268.70px;top:1433.00px;font-size:21.3px;line-height:21.3px;transform:scaleX(1.0000);color:#141414;letter-spacing:0.4px;text-indent:0.4px;">229,33103</div>
<div class="t" style="left:383.00px;top:1436.00px;font-size:15.8px;line-height:15.8px;transform:scaleX(1.0000);color:#141414;letter-spacing:0.85px;text-indent:0.85px;">240,64939</div>
<div class="t" style="left:-98.25px;top:1491.00px;font-size:14.5px;line-height:14.5px;transform:scaleX(0.9701);color:#141414;">KIRKLARELİ ÜNİVERSİTESİ<span class="sl">/</span>Uygulamalı Bilimler</div>
<div class="t" style="left:-98.25px;top:1513.00px;font-size:14.5px;line-height:14.5px;transform:scaleX(0.9998);color:#141414;">Yüksekokulu<span class="sl">/</span>Uluslararası Ticaret ve Lojistik</div>
<div class="t" style="left:114.70px;top:1502.00px;font-size:14px;line-height:14px;transform:scaleX(0.9800);color:#141414;">EA</div>
<div class="t" style="left:177.60px;top:1502.00px;font-size:14px;line-height:14px;transform:scaleX(1.0500);color:#141414;">4</div>
<div class="t" style="left:268.70px;top:1500.00px;font-size:21.3px;line-height:21.3px;transform:scaleX(1.0000);color:#141414;letter-spacing:0.4px;text-indent:0.4px;">228,50808</div>
<div class="t" style="left:383.00px;top:1502.00px;font-size:15.8px;line-height:15.8px;transform:scaleX(1.0000);color:#141414;letter-spacing:0.85px;text-indent:0.85px;">237,50225</div>
<div class="t" style="left:-98.25px;top:1547.00px;font-size:14.5px;line-height:14.5px;transform:scaleX(0.9550);color:#141414;">KAHRAMANMARAŞ SÜTÇÜ İMAM</div>
<div class="t" style="left:-98.25px;top:1569.00px;font-size:14.5px;line-height:14.5px;transform:scaleX(0.9788);color:#141414;">ÜNİVERSİTESİ<span class="sl">/</span>İktisadi ve İdari Bilimler</div>
<div class="t" style="left:-98.25px;top:1590.00px;font-size:14.5px;line-height:14.5px;transform:scaleX(0.9987);color:#141414;">Fakültesi<span class="sl">/</span>Uluslararası Ticaret ve Lojistik</div>
<div class="t" style="left:114.70px;top:1569.00px;font-size:14px;line-height:14px;transform:scaleX(0.9800);color:#141414;">EA</div>
<div class="t" style="left:177.60px;top:1569.00px;font-size:14px;line-height:14px;transform:scaleX(1.0500);color:#141414;">4</div>
<div class="t" style="left:268.70px;top:1566.00px;font-size:21.3px;line-height:21.3px;transform:scaleX(1.0000);color:#141414;letter-spacing:0.4px;text-indent:0.4px;">227,63646</div>
<div class="t" style="left:383.00px;top:1569.00px;font-size:15.8px;line-height:15.8px;transform:scaleX(1.0000);color:#141414;letter-spacing:0.85px;text-indent:0.85px;">229,50779</div>
<div class="t" style="left:-98.25px;top:1614.00px;font-size:14.5px;line-height:14.5px;transform:scaleX(0.9654);color:#141414;">PAMUKKALE ÜNİVERSİTESİ (DENİZLİ)<span class="sl">/</span>Uygulamalı</div>
<div class="t" style="left:-98.25px;top:1635.00px;font-size:14.5px;line-height:14.5px;transform:scaleX(1.0004);color:#141414;">Bilimler Yüksekokulu<span class="sl">/</span>Uluslararası Ticaret ve</div>
<div class="t" style="left:-98.25px;top:1656.00px;font-size:14.5px;line-height:14.5px;transform:scaleX(0.9870);color:#141414;">Lojistik (İÖ)</div>
<div class="t" style="left:114.70px;top:1635.00px;font-size:14px;line-height:14px;transform:scaleX(0.9800);color:#141414;">EA</div>
<div class="t" style="left:177.60px;top:1635.00px;font-size:14px;line-height:14px;transform:scaleX(1.0500);color:#141414;">4</div>
<div class="t" style="left:268.70px;top:1633.00px;font-size:21.3px;line-height:21.3px;transform:scaleX(1.0000);color:#141414;letter-spacing:0.4px;text-indent:0.4px;">226,96424</div>
<div class="t" style="left:383.00px;top:1635.00px;font-size:15.8px;line-height:15.8px;transform:scaleX(1.0000);color:#141414;letter-spacing:0.85px;text-indent:0.85px;">233,80893</div>
<div class="t" style="left:-98.25px;top:1680.00px;font-size:14.5px;line-height:14.5px;transform:scaleX(0.9701);color:#141414;">OSMANİYE KORKUT ATA ÜNİVERSİTESİ<span class="sl">/</span>İktisadi ve</div>
<div class="t" style="left:-98.25px;top:1701.00px;font-size:14.5px;line-height:14.5px;transform:scaleX(0.9987);color:#141414;">İdari Bilimler Fakültesi<span class="sl">/</span>Uluslararası Ticaret ve</div>
<div class="t" style="left:-98.25px;top:1723.00px;font-size:14.5px;line-height:14.5px;transform:scaleX(1.0030);color:#141414;">Lojistik</div>
<div class="t" style="left:114.70px;top:1701.00px;font-size:14px;line-height:14px;transform:scaleX(0.9800);color:#141414;">EA</div>
<div class="t" style="left:177.60px;top:1701.00px;font-size:14px;line-height:14px;transform:scaleX(1.0500);color:#141414;">4</div>
<div class="t" style="left:268.70px;top:1699.00px;font-size:21.3px;line-height:21.3px;transform:scaleX(1.0000);color:#141414;letter-spacing:0.4px;text-indent:0.4px;">226,83863</div>
<div class="t" style="left:383.00px;top:1701.00px;font-size:15.8px;line-height:15.8px;transform:scaleX(1.0000);color:#141414;letter-spacing:0.85px;text-indent:0.85px;">235,92834</div>
<div class="t" style="left:-98.25px;top:1746.00px;font-size:14.5px;line-height:14.5px;transform:scaleX(0.9631);color:#141414;">BOLU ABANT İZZET BAYSAL ÜNİVERSİTESİ<span class="sl">/</span>Gerede</div>
<div class="t" style="left:-98.25px;top:1768.00px;font-size:14.5px;line-height:14.5px;transform:scaleX(1.0002);color:#141414;">Uygulamalı Bilimler Yüksekokulu<span class="sl">/</span>Uluslararası</div>
<div class="t" style="left:-98.25px;top:1789.00px;font-size:14.5px;line-height:14.5px;transform:scaleX(1.0039);color:#141414;">Ticaret ve Lojistik</div>
<div class="t" style="left:114.70px;top:1768.00px;font-size:14px;line-height:14px;transform:scaleX(0.9800);color:#141414;">EA</div>
<div class="t" style="left:177.60px;top:1768.00px;font-size:14px;line-height:14px;transform:scaleX(1.0500);color:#141414;">4</div>
<div class="t" style="left:268.70px;top:1766.00px;font-size:21.3px;line-height:21.3px;transform:scaleX(1.0000);color:#141414;letter-spacing:0.4px;text-indent:0.4px;">226,79108</div>
<div class="t" style="left:383.00px;top:1768.00px;font-size:15.8px;line-height:15.8px;transform:scaleX(1.0000);color:#141414;letter-spacing:0.85px;text-indent:0.85px;">245,35293</div>
<div class="t" style="left:-98.25px;top:1824.00px;font-size:14.5px;line-height:14.5px;transform:scaleX(0.9701);color:#141414;">KIRKLARELİ ÜNİVERSİTESİ<span class="sl">/</span>Uygulamalı Bilimler</div>
<div class="t" style="left:-98.25px;top:1845.00px;font-size:14.5px;line-height:14.5px;transform:scaleX(0.9962);color:#141414;">Yüksekokulu<span class="sl">/</span>Uluslararası Ticaret ve Lojistik (İÖ)</div>
<div class="t" style="left:114.70px;top:1834.00px;font-size:14px;line-height:14px;transform:scaleX(0.9800);color:#141414;">EA</div>
<div class="t" style="left:177.60px;top:1834.00px;font-size:14px;line-height:14px;transform:scaleX(1.0500);color:#141414;">4</div>
<div class="t" style="left:268.70px;top:1832.00px;font-size:21.3px;line-height:21.3px;transform:scaleX(1.0000);color:#141414;letter-spacing:0.4px;text-indent:0.4px;">226,66705</div>
<div class="t" style="left:383.00px;top:1834.00px;font-size:15.8px;line-height:15.8px;transform:scaleX(1.0000);color:#141414;letter-spacing:0.85px;text-indent:0.85px;">229,74757</div>
<div class="t" style="left:-98.25px;top:1890.00px;font-size:14.5px;line-height:14.5px;transform:scaleX(0.9670);color:#141414;">KAFKAS ÜNİVERSİTESİ (KARS)<span class="sl">/</span>İktisadi ve İdari</div>
<div class="t" style="left:-98.25px;top:1911.00px;font-size:14.5px;line-height:14.5px;transform:scaleX(0.9988);color:#141414;">Bilimler Fakültesi<span class="sl">/</span>Uluslararası Ticaret ve Lojistik</div>
<div class="t" style="left:114.70px;top:1901.00px;font-size:14px;line-height:14px;transform:scaleX(0.9800);color:#141414;">EA</div>
<div class="t" style="left:177.60px;top:1901.00px;font-size:14px;line-height:14px;transform:scaleX(1.0500);color:#141414;">4</div>
<div class="t" style="left:268.70px;top:1898.00px;font-size:21.3px;line-height:21.3px;transform:scaleX(1.0000);color:#141414;letter-spacing:0.4px;text-indent:0.4px;">225,82772</div>
<div class="t" style="left:383.00px;top:1901.00px;font-size:15.8px;line-height:15.8px;transform:scaleX(1.0000);color:#141414;letter-spacing:0.85px;text-indent:0.85px;">230,0432</div>
<div class="t" style="left:-98.25px;top:1956.00px;font-size:14.5px;line-height:14.5px;transform:scaleX(0.9690);color:#141414;">KİLİS 7 ARALIK ÜNİVERSİTESİ<span class="sl">/</span>İktisadi ve İdari</div>
<div class="t" style="left:-98.25px;top:1978.00px;font-size:14.5px;line-height:14.5px;transform:scaleX(0.9988);color:#141414;">Bilimler Fakültesi<span class="sl">/</span>Uluslararası Ticaret ve Lojistik</div>
<div class="t" style="left:114.70px;top:1967.00px;font-size:14px;line-height:14px;transform:scaleX(0.9800);color:#141414;">EA</div>
<div class="t" style="left:177.60px;top:1967.00px;font-size:14px;line-height:14px;transform:scaleX(1.0500);color:#141414;">4</div>
<div class="t" style="left:268.70px;top:1965.00px;font-size:21.3px;line-height:21.3px;transform:scaleX(1.0000);color:#141414;letter-spacing:0.4px;text-indent:0.4px;">225,35646</div>
<div class="t" style="left:383.00px;top:1967.00px;font-size:15.8px;line-height:15.8px;transform:scaleX(1.0000);color:#141414;letter-spacing:0.85px;text-indent:0.85px;">240,11714</div>
<div class="t" style="left:-98.25px;top:2012.00px;font-size:14.5px;line-height:14.5px;transform:scaleX(0.9631);color:#141414;">BOLU ABANT İZZET BAYSAL ÜNİVERSİTESİ<span class="sl">/</span>Gerede</div>
<div class="t" style="left:-98.25px;top:2033.00px;font-size:14.5px;line-height:14.5px;transform:scaleX(1.0002);color:#141414;">Uygulamalı Bilimler Yüksekokulu<span class="sl">/</span>Uluslararası</div>
<div class="t" style="left:-98.25px;top:2055.00px;font-size:14.5px;line-height:14.5px;transform:scaleX(0.9952);color:#141414;">Ticaret ve Lojistik (İÖ)</div>
<div class="t" style="left:114.70px;top:2033.00px;font-size:14px;line-height:14px;transform:scaleX(0.9800);color:#141414;">EA</div>
<div class="t" style="left:177.60px;top:2033.00px;font-size:14px;line-height:14px;transform:scaleX(1.0500);color:#141414;">4</div>
<div class="t" style="left:268.70px;top:2031.00px;font-size:21.3px;line-height:21.3px;transform:scaleX(1.0000);color:#141414;letter-spacing:0.4px;text-indent:0.4px;">224,27893</div>
<div class="t" style="left:383.00px;top:2033.00px;font-size:15.8px;line-height:15.8px;transform:scaleX(1.0000);color:#141414;letter-spacing:0.85px;text-indent:0.85px;">225,55068</div>
<div class="t" style="left:-98.25px;top:2078.00px;font-size:14.5px;line-height:14.5px;transform:scaleX(0.9644);color:#141414;">RECEP TAYYİP ERDOĞAN ÜNİVERSİTESİ</div>
<div class="t" style="left:-98.25px;top:2100.00px;font-size:14.5px;line-height:14.5px;transform:scaleX(0.9872);color:#141414;">(RİZE)<span class="sl">/</span>Fındıklı Uygulamalı Bilimler</div>
<div class="t" style="left:-98.25px;top:2121.00px;font-size:14.5px;line-height:14.5px;transform:scaleX(0.9998);color:#141414;">Yüksekokulu<span class="sl">/</span>Uluslararası Ticaret ve Lojistik</div>
<div class="t" style="left:114.70px;top:2100.00px;font-size:14px;line-height:14px;transform:scaleX(0.9800);color:#141414;">EA</div>
<div class="t" style="left:177.60px;top:2100.00px;font-size:14px;line-height:14px;transform:scaleX(1.0500);color:#141414;">6</div>
<div class="t" style="left:268.70px;top:2098.00px;font-size:21.3px;line-height:21.3px;transform:scaleX(1.0000);color:#141414;letter-spacing:0.4px;text-indent:0.4px;">223,06907</div>
<div class="t" style="left:383.00px;top:2100.00px;font-size:15.8px;line-height:15.8px;transform:scaleX(1.0000);color:#141414;letter-spacing:0.85px;text-indent:0.85px;">230,73741</div>
<div class="t" style="left:-98.25px;top:2145.00px;font-size:14.5px;line-height:14.5px;transform:scaleX(0.9636);color:#141414;">ATILIM ÜNİVERSİTESİ (ANKARA)<span class="sl">/</span>İşletme</div>
<div class="t" style="left:-98.25px;top:2166.00px;font-size:14.5px;line-height:14.5px;transform:scaleX(0.9990);color:#141414;">Fakültesi<span class="sl">/</span>Uluslararası Ticaret ve Lojistik (İngilizce)</div>
<div class="t" style="left:-98.25px;top:2188.00px;font-size:14.5px;line-height:14.5px;transform:scaleX(0.9891);color:#141414;">(%75 İndirimli)</div>
<div class="t" style="left:114.70px;top:2166.00px;font-size:14px;line-height:14px;transform:scaleX(0.9800);color:#141414;">EA</div>
<div class="t" style="left:177.60px;top:2166.00px;font-size:14px;line-height:14px;transform:scaleX(1.2500);color:#141414;">1</div>
<div class="t" style="left:268.70px;top:2164.00px;font-size:21.3px;line-height:21.3px;transform:scaleX(1.0000);color:#141414;letter-spacing:0.4px;text-indent:0.4px;">220,74555</div>
<div class="t" style="left:383.00px;top:2166.00px;font-size:15.8px;line-height:15.8px;transform:scaleX(1.0000);color:#141414;letter-spacing:0.85px;text-indent:0.85px;">220,74555</div>
<div class="t" style="left:-98.25px;top:2211.00px;font-size:14.5px;line-height:14.5px;transform:scaleX(0.9675);color:#141414;">ÇAĞ ÜNİVERSİTESİ (MERSİN)<span class="sl">/</span>İktisadi ve İdari</div>
<div class="t" style="left:-98.25px;top:2233.00px;font-size:14.5px;line-height:14.5px;transform:scaleX(0.9988);color:#141414;">Bilimler Fakültesi<span class="sl">/</span>Uluslararası Ticaret ve Lojistik</div>
<div class="t" style="left:-98.25px;top:2254.00px;font-size:14.5px;line-height:14.5px;transform:scaleX(0.9937);color:#141414;">(İngilizce) (%75 İndirimli)</div>
<div class="t" style="left:114.70px;top:2233.00px;font-size:14px;line-height:14px;transform:scaleX(0.9800);color:#141414;">EA</div>
<div class="t" style="left:177.60px;top:2233.00px;font-size:14px;line-height:14px;transform:scaleX(1.0500);color:#141414;">2</div>
<div class="t" style="left:268.70px;top:2230.00px;font-size:21.3px;line-height:21.3px;transform:scaleX(1.0000);color:#141414;letter-spacing:0.4px;text-indent:0.4px;">215,034</div>
<div class="t" style="left:383.00px;top:2233.00px;font-size:15.8px;line-height:15.8px;transform:scaleX(1.0000);color:#141414;letter-spacing:0.85px;text-indent:0.85px;">217,58654</div>
<div class="t" style="left:-98.25px;top:2278.00px;font-size:14.5px;line-height:14.5px;transform:scaleX(0.9675);color:#141414;">ÇAĞ ÜNİVERSİTESİ (MERSİN)<span class="sl">/</span>İktisadi ve İdari</div>
<div class="t" style="left:-98.25px;top:2299.00px;font-size:14.5px;line-height:14.5px;transform:scaleX(0.9988);color:#141414;">Bilimler Fakültesi<span class="sl">/</span>Uluslararası Ticaret ve Lojistik</div>
<div class="t" style="left:-98.25px;top:2321.00px;font-size:14.5px;line-height:14.5px;transform:scaleX(0.9937);color:#141414;">(İngilizce) (%50 İndirimli)</div>
<div class="t" style="left:114.70px;top:2299.00px;font-size:14px;line-height:14px;transform:scaleX(0.9800);color:#141414;">EA</div>
<div class="t" style="left:177.60px;top:2299.00px;font-size:14px;line-height:14px;transform:scaleX(1.0500);color:#141414;">5</div>
<div class="t" style="left:268.70px;top:2297.00px;font-size:21.3px;line-height:21.3px;transform:scaleX(1.0000);color:#141414;letter-spacing:0.4px;text-indent:0.4px;">203,58736</div>
<div class="t" style="left:383.00px;top:2299.00px;font-size:15.8px;line-height:15.8px;transform:scaleX(1.0000);color:#141414;letter-spacing:0.85px;text-indent:0.85px;">211,71237</div>
<div class="t" style="left:-98.25px;top:2344.00px;font-size:14.5px;line-height:14.5px;transform:scaleX(0.9587);color:#141414;">HASAN KALYONCU ÜNİVERSİTESİ (GAZİANTEP)</div>
<div class="t" style="left:-98.25px;top:2366.00px;font-size:14.5px;line-height:14.5px;transform:scaleX(1.0014);color:#141414;">İktisadi, İdari ve Sosyal Bilimler Fakültesi</div>
<div class="t" style="left:-98.25px;top:2387.00px;font-size:14.5px;line-height:14.5px;transform:scaleX(0.9988);color:#141414;">Uluslararası Ticaret ve Lojistik (%50 İndirimli)</div>
<div class="t" style="left:114.70px;top:2366.00px;font-size:14px;line-height:14px;transform:scaleX(0.9800);color:#141414;">EA</div>
<div class="t" style="left:177.60px;top:2366.00px;font-size:14px;line-height:14px;transform:scaleX(1.0500);color:#141414;">3</div>
<div class="t" style="left:268.70px;top:2363.00px;font-size:21.3px;line-height:21.3px;transform:scaleX(1.0000);color:#141414;letter-spacing:0.4px;text-indent:0.4px;">203,38572</div>
<div class="t" style="left:383.00px;top:2365.00px;font-size:15.8px;line-height:15.8px;transform:scaleX(1.0000);color:#141414;letter-spacing:0.85px;text-indent:0.85px;">223,13098</div>
<div class="t" style="left:-98.25px;top:2411.00px;font-size:14.5px;line-height:14.5px;transform:scaleX(0.9674);color:#141414;">TOROS ÜNİVERSİTESİ (MERSİN)<span class="sl">/</span>İktisadi, İdari ve</div>
<div class="t" style="left:-98.25px;top:2432.00px;font-size:14.5px;line-height:14.5px;transform:scaleX(0.9984);color:#141414;">Sosyal Bilimler Fakültesi<span class="sl">/</span>Uluslararası Ticaret ve</div>
<div class="t" style="left:-98.25px;top:2453.00px;font-size:14.5px;line-height:14.5px;transform:scaleX(0.9983);color:#141414;">Lojistik (İngilizce) (Ücretli)</div>
<div class="t" style="left:114.70px;top:2432.00px;font-size:14px;line-height:14px;transform:scaleX(0.9800);color:#141414;">EA</div>
<div class="t" style="left:177.60px;top:2432.00px;font-size:14px;line-height:14px;transform:scaleX(1.0500);color:#141414;">6</div>
<div class="t" style="left:268.70px;top:2430.00px;font-size:21.3px;line-height:21.3px;transform:scaleX(1.0000);color:#141414;letter-spacing:0.4px;text-indent:0.4px;">191,96375</div>
<div class="t" style="left:383.00px;top:2432.00px;font-size:15.8px;line-height:15.8px;transform:scaleX(1.0000);color:#141414;letter-spacing:0.85px;text-indent:0.85px;">191,96375</div>
</body></html>
